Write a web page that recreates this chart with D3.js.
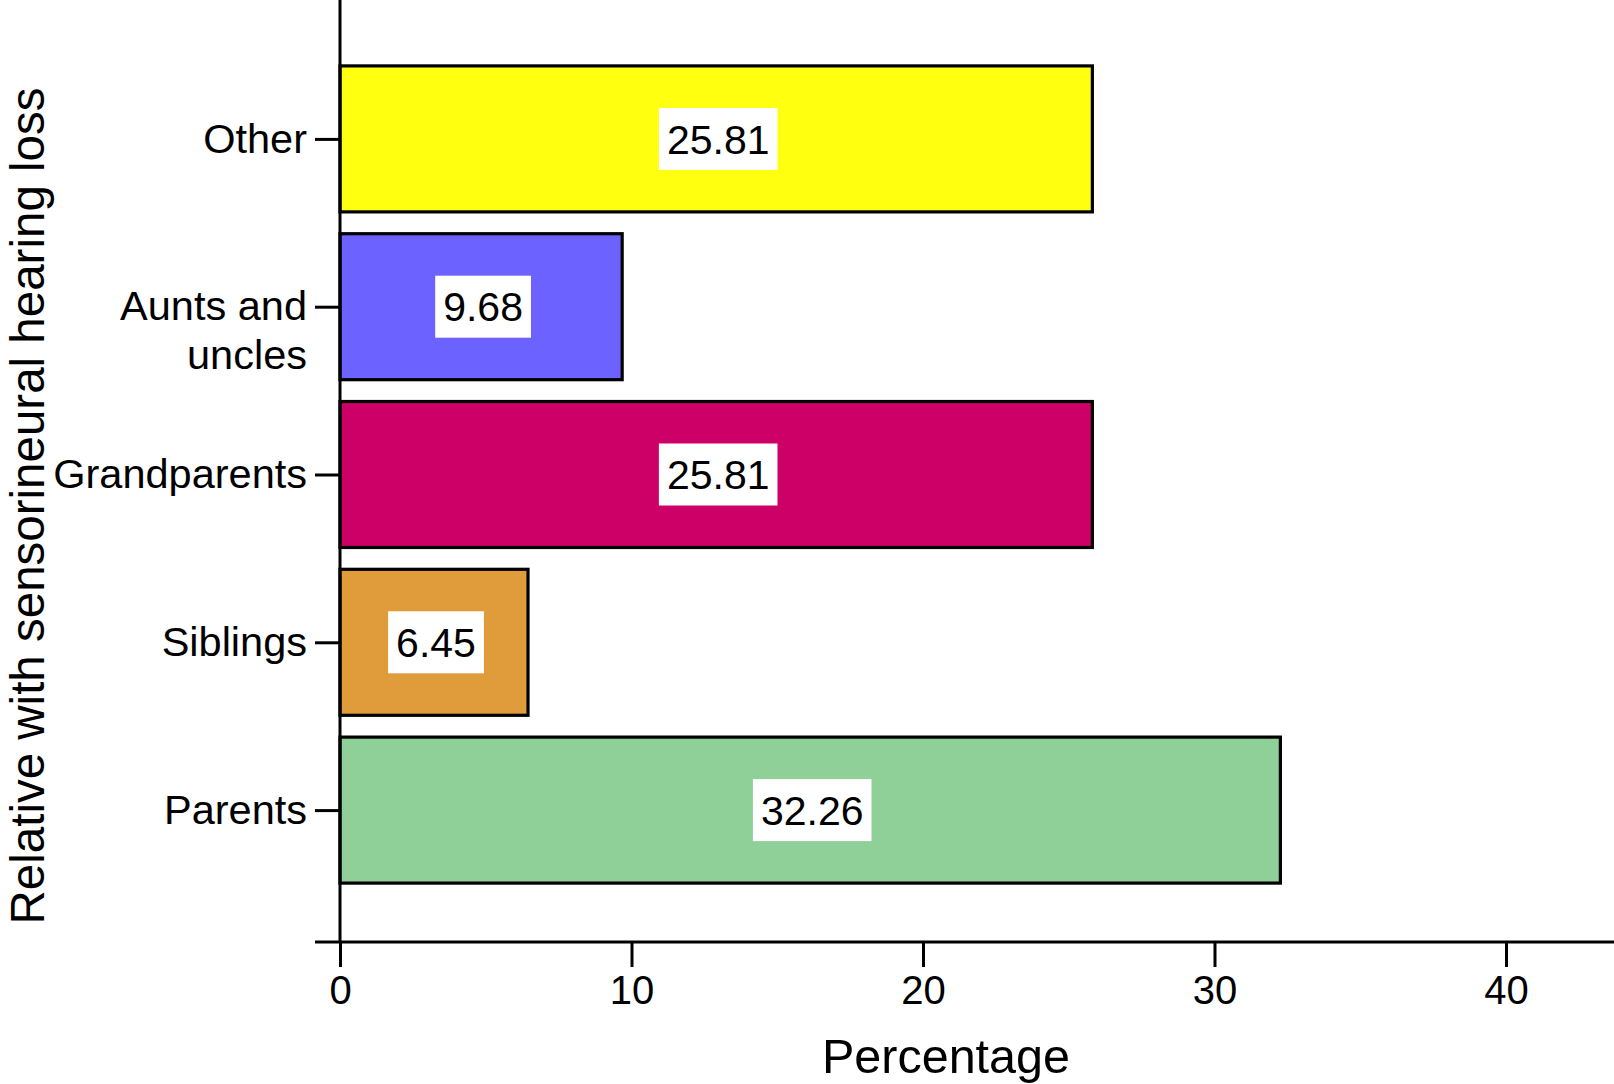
<!DOCTYPE html>
<html>
<head>
<meta charset="utf-8">
<script src="https://cdn.jsdelivr.net/npm/d3@7"></script>
<style>
  html, body { margin: 0; padding: 0; background: #fff; }
  svg { display: block; font-family: "Liberation Sans", Arial, Helvetica, sans-serif; }
</style>
</head>
<body>
<svg id="chart" width="1614" height="1084"></svg>
<script>
// ---- data ----
const categories = ["Other", "Aunts and uncles", "Grandparents", "Siblings", "Parents"];
const values = [25.81, 9.68, 25.81, 6.45, 32.26];
const colors = ["#FFFF10", "#6C62FF", "#CC0066", "#E09C3A", "#8FCF98"];
const xTicks = [0, 10, 20, 30, 40];
const xTitle = "Percentage";
const yTitle = "Relative with sensorineural hearing loss";

// ---- layout ----
const W = 1614, H = 1084;
const svg = d3.select("#chart");
const axisY = 942;   // x-axis baseline
const x = d3.scaleLinear().domain([0, 40]).range([340, 1506]);
const y = d3.scalePoint().domain(categories).range([55, 894]).padding(0.5);
const barH = y.step() * 0.87;

const data = categories.map((c, i) => ({ cat: c, value: values[i], color: colors[i] }));

// bars
svg.append("g").selectAll("rect").data(data).join("rect")
  .attr("x", x(0))
  .attr("y", d => y(d.cat) - barH / 2)
  .attr("width", d => x(d.value) - x(0))
  .attr("height", barH)
  .attr("fill", d => d.color)
  .attr("stroke", "#000")
  .attr("stroke-width", 3.2);

// value labels with white boxes
const lab = svg.append("g").selectAll("g").data(data).join("g")
  .attr("transform", d => `translate(${(x(0) + x(d.value)) / 2 + 2},${y(d.cat)})`);
lab.append("rect").attr("fill", "#fff");
lab.append("text")
  .attr("text-anchor", "middle")
  .attr("dy", "0.36em")
  .attr("font-size", 41)
  .attr("fill", "#000")
  .text(d => d.value.toFixed(2));
lab.each(function () {
  const g = d3.select(this);
  const bb = g.select("text").node().getBBox();
  const padX = 8, h = 62;
  g.select("rect")
    .attr("x", -bb.width / 2 - padX)
    .attr("y", -h / 2)
    .attr("width", bb.width + 2 * padX)
    .attr("height", h);
});

// x axis
const xAxis = d3.axisBottom(x).tickValues(xTicks).tickSize(25).tickPadding(9).tickFormat(d3.format("d"));
const gx = svg.append("g").attr("transform", `translate(0,${axisY})`).call(xAxis);
gx.select(".domain").remove();
gx.selectAll(".tick line").attr("stroke", "#000").attr("stroke-width", 3);
gx.selectAll(".tick text").attr("font-size", 40).attr("fill", "#000");
gx.attr("font-family", null);
svg.append("line")
  .attr("x1", 315).attr("x2", W)
  .attr("y1", axisY).attr("y2", axisY)
  .attr("stroke", "#000").attr("stroke-width", 3);

// y axis
const yAxis = d3.axisLeft(y).tickSize(25).tickPadding(8);
const gy = svg.append("g").attr("transform", `translate(${x(0)},0)`).call(yAxis);
gy.attr("font-family", null);
gy.select(".domain").remove();
gy.selectAll(".tick line").attr("stroke", "#000").attr("stroke-width", 3);
gy.selectAll(".tick text").attr("font-size", 41.5).attr("fill", "#000")
  .each(function (d) {
    const t = d3.select(this);
    const xPos = t.attr("x");
    const maxW = 270;
    const words = d.split(" ");
    const lines = [];
    let cur = "";
    const probe = svg.append("text").attr("font-size", 41.5);
    words.forEach(w => {
      const test = cur ? cur + " " + w : w;
      probe.text(test);
      if (probe.node().getComputedTextLength() > maxW && cur) {
        lines.push(cur); cur = w;
      } else cur = test;
    });
    lines.push(cur);
    probe.remove();
    t.text(null).attr("dy", null);
    lines.forEach((ln, i) => {
      t.append("tspan").attr("x", xPos).attr("dy", i === 0 ? "0.32em" : "1.16em").text(ln);
    });
  });
svg.append("line")
  .attr("x1", x(0)).attr("x2", x(0))
  .attr("y1", 0).attr("y2", axisY)
  .attr("stroke", "#000").attr("stroke-width", 3);

// titles
svg.append("text")
  .attr("x", 946).attr("y", 1073)
  .attr("text-anchor", "middle")
  .attr("font-size", 48.5)
  .attr("fill", "#000")
  .text(xTitle);
svg.append("text")
  .attr("transform", "translate(44,506) rotate(-90)")
  .attr("text-anchor", "middle")
  .attr("font-size", 47.5)
  .attr("fill", "#000")
  .text(yTitle);
</script>
</body>
</html>
